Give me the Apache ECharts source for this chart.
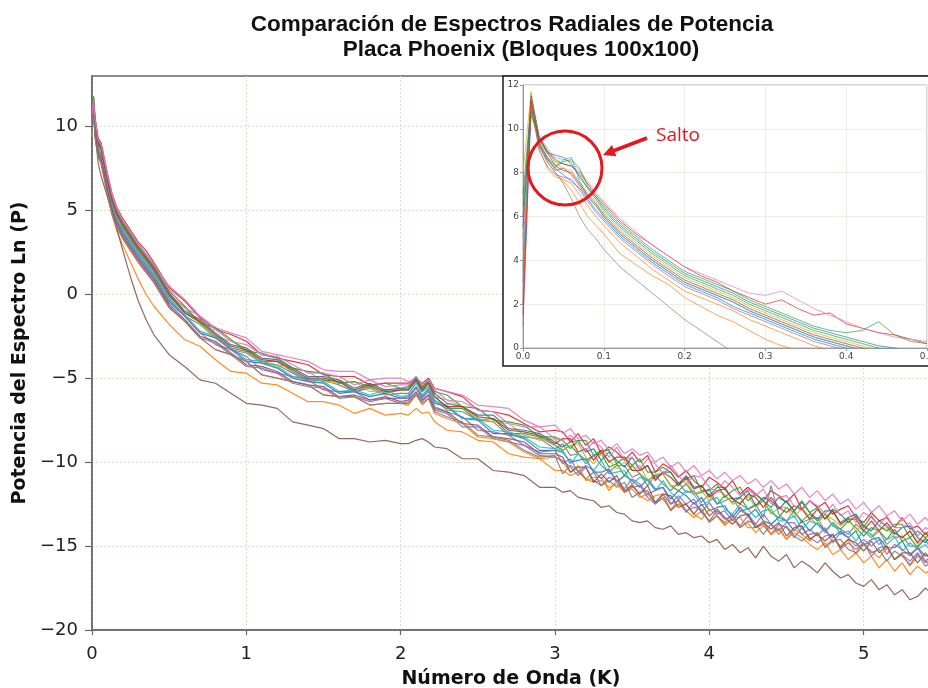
<!DOCTYPE html>
<html>
<head>
<meta charset="utf-8">
<script src="https://cdn.jsdelivr.net/npm/echarts@6/dist/echarts.min.js"></script>
<style>html,body{margin:0;padding:0;background:#fff}#chart{width:928px;height:688px}</style>
</head>
<body>
<div id="chart"></div>
<script>
// ---------- DATA ----------
const titleLine1 = 'Comparación de Espectros Radiales de Potencia';
const titleLine2 = 'Placa Phoenix (Bloques 100x100)';
const xName = 'Número de Onda (K)';
const yName = 'Potencia del Espectro Ln (P)';
const xTicks = [0, 1, 2, 3, 4, 5];
const yTicks = [-20, -15, -10, -5, 0, 5, 10];
const insetXTicks = [0, 0.1, 0.2, 0.3, 0.4, 0.5];
const insetYTicks = [0, 2, 4, 6, 8, 10, 12];
const annotationText = 'Salto';

const kMain = [0,0.01,0.02,0.04,0.06,0.08,0.1,0.13,0.16,0.2,0.25,0.3,0.35,0.4,0.5,0.6,0.7,0.8,0.9,1.0,
1.1,1.2,1.3,1.4,1.5,1.6,1.7,1.8,1.9,2.0,2.05,2.1,2.14,2.18,2.22,2.3,2.4,2.5,2.6,2.7,2.8,2.9,3.0,
3.05,3.1,3.15,3.2,3.25,3.3,3.35,3.4,3.45,3.5,3.55,3.6,3.65,3.7,3.75,3.8,3.85,3.9,3.95,4.0,4.05,4.1,4.15,4.2,4.25,4.3,4.35,4.4,4.45,4.5,4.55,4.6,4.65,4.7,4.75,4.8,4.85,4.9,4.95,5.0,5.05,5.1,5.15,5.2,5.25,5.3,5.35,5.4,5.45];

const b01 = [10.0,11.2,9.8,8.6,8.1,7.3,6.4,5.2,4.4,3.7,3.0,2.3,1.7,1.1,-0.4,-1.3,-2.3,-2.6,-3.3,-4.0,-4.1,-4.4,-5.0,-5.2,-5.3,-5.9,-5.8,-6.1,-5.9,-6.2,-6.1,-5.5,-6.1,-5.7,-6.5,-6.7,-7.4,-7.5,-8.3,-8.3,-8.6,-9.3,-9.3,
-9.4,-10.0,-9.9,-9.8,-10.6,-10.6,-10.4,-11.2,-10.8,-11.1,-11.5,-11.0,-11.6,-11.5,-12.2,-11.7,-12.0,-12.5,-12.1,-12.9,-12.7,-12.6,-13.3,-12.7,-13.2,-12.8,-13.5,-13.7,-13.3,-13.5,-14.1,-13.5,-14.1,-13.6,-14.1,-14.5,-14.1,-14.5,-14.1,-15.0,-14.6,-14.5,-15.1,-15.1,-14.7,-15.5,-15.1,-15.6,-15.4];
const b02 = [10.0,11.4,9.8,8.4,7.7,6.8,5.9,4.7,3.8,2.9,1.9,0.9,0.0,-0.7,-1.8,-2.7,-3.1,-3.9,-4.6,-4.7,-5.3,-5.4,-5.9,-6.4,-6.4,-6.6,-7.1,-6.8,-7.2,-7.1,-7.2,-6.8,-7.1,-7.0,-7.6,-8.1,-8.2,-8.7,-8.8,-9.5,-9.7,-9.8,-10.5,
-10.5,-10.8,-10.6,-11.0,-11.2,-11.1,-11.5,-11.3,-11.8,-11.6,-12.1,-11.9,-12.4,-12.2,-12.8,-12.5,-12.9,-13.3,-12.9,-13.5,-13.2,-13.7,-13.4,-13.9,-13.6,-14.2,-13.8,-14.3,-14.0,-14.6,-14.2,-14.5,-14.9,-15.2,-14.8,-15.5,-15.2,-15.8,-15.4,-16.0,-15.6,-16.3,-15.8,-16.5,-16.0,-16.7,-16.2,-16.6,-16.4];
const b03 = [10.6,11.6,10.1,8.9,8.6,7.6,6.7,5.5,4.7,4.0,3.3,2.6,2.0,1.4,-0.1,-1.1,-1.7,-2.5,-3.2,-3.4,-4.0,-4.0,-4.6,-5.1,-5.1,-5.2,-5.8,-5.5,-5.9,-5.7,-5.7,-5.1,-5.8,-5.3,-6.1,-6.8,-6.8,-7.5,-7.4,-8.3,-8.3,-8.5,-9.0,
-9.3,-9.0,-9.5,-9.9,-9.6,-9.5,-10.3,-10.1,-10.8,-10.2,-10.7,-11.1,-10.8,-10.7,-11.4,-11.7,-11.3,-11.9,-11.8,-11.6,-12.5,-12.0,-12.4,-12.1,-12.8,-12.6,-12.3,-13.0,-13.3,-12.7,-13.0,-13.5,-13.1,-13.5,-13.1,-13.8,-14.0,-13.5,-13.9,-14.4,-13.9,-14.1,-14.6,-14.0,-14.7,-14.5,-15.1,-14.5,-15.0];
const b04 = [10.8,11.7,10.5,9.3,9.0,8.1,7.2,6.0,5.2,4.5,3.8,3.1,2.6,1.9,0.4,-0.4,-1.4,-2.1,-2.4,-2.8,-3.6,-3.8,-4.0,-4.2,-4.8,-4.9,-4.9,-5.4,-5.3,-5.3,-5.3,-5.0,-5.3,-5.0,-5.6,-5.8,-6.1,-6.9,-7.0,-7.2,-7.7,-8.2,-8.1,
-8.2,-8.8,-8.3,-9.0,-8.6,-9.5,-9.1,-9.4,-9.9,-9.4,-10.0,-9.6,-10.6,-10.1,-10.4,-10.9,-10.5,-11.1,-11.5,-10.9,-11.2,-11.6,-11.1,-11.9,-11.5,-11.9,-12.3,-11.7,-12.0,-12.4,-11.9,-12.8,-12.3,-12.7,-12.4,-13.1,-12.8,-12.6,-13.3,-13.6,-13.0,-13.5,-13.3,-13.9,-13.3,-14.0,-13.8,-14.3,-13.9];
const b05 = [9.6,11.0,9.4,8.2,7.8,7.0,6.1,4.9,4.1,3.4,2.7,2.0,1.4,0.8,-0.7,-1.6,-2.6,-2.9,-3.6,-4.3,-4.4,-4.7,-5.3,-5.5,-5.6,-6.2,-6.1,-6.4,-6.2,-6.5,-6.4,-5.9,-6.4,-6.0,-6.9,-7.1,-7.9,-7.9,-8.6,-8.8,-9.0,-9.6,-9.7,
-9.9,-10.3,-10.8,-10.3,-11.1,-11.4,-10.9,-11.1,-11.8,-11.5,-11.4,-12.1,-12.5,-11.9,-12.5,-12.3,-13.0,-12.4,-13.0,-13.5,-12.9,-13.4,-13.2,-13.8,-13.2,-13.9,-13.7,-14.3,-13.7,-13.9,-14.5,-13.9,-14.5,-14.8,-14.4,-14.3,-15.2,-14.8,-15.2,-14.8,-15.6,-15.1,-15.0,-15.8,-15.5,-15.9,-15.4,-16.0,-15.7];
const b06 = [9.8,11.0,9.6,7.8,7.0,6.4,5.8,4.8,3.9,2.6,1.0,-0.4,-1.5,-2.4,-3.6,-4.3,-5.1,-5.3,-5.9,-6.5,-6.6,-6.8,-7.6,-7.8,-8.0,-8.6,-8.6,-8.8,-8.7,-8.9,-8.9,-8.7,-8.6,-8.8,-9.1,-9.2,-9.8,-9.8,-10.5,-10.6,-10.8,-11.5,-11.5,
-11.8,-11.7,-12.1,-12.2,-12.3,-12.7,-12.6,-13.0,-13.1,-13.5,-13.6,-13.5,-13.9,-14.0,-13.8,-14.3,-14.2,-14.5,-14.4,-14.8,-14.6,-15.2,-14.9,-15.4,-15.1,-15.7,-15.0,-15.6,-15.9,-15.5,-16.3,-15.9,-16.2,-16.6,-16.0,-16.5,-16.9,-16.7,-17.2,-17.4,-17.0,-17.6,-17.3,-17.9,-17.6,-18.2,-18.0,-17.5,-17.9];
const b07 = [10.4,11.5,10.2,9.0,8.7,7.9,7.0,5.9,5.1,4.3,3.6,3.0,2.3,1.7,0.5,-0.3,-1.3,-2.0,-2.3,-2.6,-3.4,-3.6,-3.8,-4.0,-4.5,-4.6,-4.6,-5.1,-5.0,-5.0,-5.2,-5.0,-5.3,-5.3,-5.6,-5.8,-6.0,-6.6,-6.7,-6.8,-7.5,-7.9,-7.8,
-8.3,-8.0,-8.6,-8.4,-8.9,-8.7,-9.3,-8.9,-9.5,-9.2,-9.6,-9.4,-10.0,-9.7,-10.3,-10.0,-10.6,-10.2,-10.8,-10.5,-11.0,-10.6,-11.1,-10.8,-11.3,-11.0,-11.5,-11.1,-11.6,-11.3,-11.9,-11.5,-12.1,-11.7,-12.3,-11.9,-12.5,-12.2,-12.8,-12.4,-13.0,-12.6,-13.2,-12.9,-13.5,-13.1,-13.7,-13.3,-13.8];
const b08 = [10.3,11.4,10.0,8.8,8.3,7.5,6.6,5.4,4.6,3.9,3.2,2.5,1.9,1.3,-0.2,-1.3,-1.8,-2.6,-3.3,-3.5,-4.1,-4.2,-4.7,-5.2,-5.1,-5.4,-5.8,-5.6,-6.0,-5.9,-5.9,-5.3,-5.8,-5.5,-6.3,-6.9,-7.0,-7.5,-7.6,-8.4,-8.5,-8.6,-9.2,
-8.9,-9.6,-9.5,-10.1,-9.6,-10.2,-10.6,-10.2,-10.2,-10.9,-10.7,-11.4,-10.8,-11.3,-11.7,-11.2,-11.8,-11.7,-12.4,-11.9,-12.5,-12.3,-12.1,-12.9,-12.8,-12.5,-13.3,-11.4,-13.1,-13.5,-12.9,-13.6,-13.4,-13.3,-14.1,-13.6,-14.0,-14.3,-13.7,-14.1,-14.5,-14.1,-14.9,-14.5,-14.4,-15.0,-15.0,-14.6,-15.4];
const b09 = [10.0,11.5,10.3,9.0,8.5,7.7,6.8,5.6,4.8,4.1,3.4,2.7,2.1,1.5,0.0,-0.8,-1.8,-2.5,-2.8,-3.2,-4.0,-4.2,-4.4,-4.6,-5.2,-5.3,-5.2,-5.8,-5.7,-5.7,-5.7,-5.1,-5.7,-5.3,-6.1,-6.3,-6.7,-7.4,-7.6,-7.7,-8.4,-8.7,-8.6,
-9.3,-9.0,-8.9,-9.7,-10.1,-9.5,-9.9,-10.4,-10.0,-10.5,-10.2,-11.1,-10.7,-10.7,-11.4,-11.4,-11.0,-11.9,-11.7,-12.3,-11.7,-11.9,-12.5,-12.4,-12.0,-12.7,-12.3,-13.1,-12.7,-12.7,-13.3,-12.7,-13.3,-13.7,-13.1,-13.4,-13.8,-13.3,-14.1,-13.7,-14.4,-14.0,-13.9,-14.5,-14.5,-14.1,-14.9,-14.5,-15.0];
const b10 = [9.4,11.1,9.9,8.7,8.3,7.4,6.5,5.3,4.5,3.8,3.1,2.4,1.8,1.2,-0.3,-1.2,-2.2,-2.5,-3.2,-3.9,-4.0,-4.3,-4.9,-5.0,-5.2,-5.8,-5.7,-6.0,-5.7,-6.1,-6.0,-5.2,-6.0,-5.6,-6.4,-6.6,-7.4,-7.4,-8.1,-8.2,-8.5,-9.1,-9.2,
-9.3,-10.1,-9.5,-9.9,-10.5,-9.9,-10.7,-10.6,-10.5,-11.3,-10.9,-11.1,-11.7,-11.1,-11.8,-12.2,-11.7,-11.9,-12.6,-12.3,-12.1,-12.8,-13.1,-12.5,-12.8,-13.3,-12.9,-12.8,-13.5,-13.5,-13.2,-14.0,-13.5,-13.7,-14.2,-13.6,-14.3,-14.1,-14.7,-14.1,-14.3,-14.9,-14.6,-14.4,-15.3,-14.8,-15.2,-14.9,-15.5];
const b11 = [10.9,11.6,10.3,9.1,8.7,7.8,6.9,5.7,4.9,4.2,3.5,2.8,2.2,1.6,0.1,-1.0,-1.5,-2.3,-3.0,-3.2,-3.8,-3.9,-4.4,-4.9,-4.9,-5.1,-5.6,-5.3,-5.7,-5.6,-5.6,-5.0,-5.6,-5.2,-5.9,-6.5,-6.7,-7.2,-7.2,-8.0,-8.1,-8.3,-8.8,
-9.1,-8.8,-8.7,-9.4,-9.2,-9.9,-9.4,-9.9,-10.3,-9.7,-10.5,-10.2,-11.0,-10.6,-10.6,-11.3,-10.8,-11.5,-11.4,-12.0,-11.5,-11.5,-12.2,-12.1,-11.7,-12.6,-12.1,-12.3,-12.8,-12.3,-12.9,-12.4,-13.0,-13.4,-12.9,-12.9,-13.6,-13.3,-13.1,-13.8,-14.1,-13.5,-13.8,-14.3,-13.9,-13.8,-14.5,-14.8,-14.2];
const b12 = [9.4,11.0,9.4,8.2,7.8,6.9,6.0,4.8,4.0,3.3,2.6,1.9,1.3,0.7,-0.8,-1.6,-2.6,-3.3,-3.6,-4.0,-4.8,-5.0,-5.2,-5.4,-6.0,-6.1,-6.1,-6.6,-6.5,-6.5,-6.6,-6.0,-6.6,-6.2,-7.1,-7.4,-7.7,-8.5,-8.6,-8.8,-9.4,-9.8,-9.7,
-10.0,-10.6,-10.2,-11.1,-10.9,-10.9,-11.7,-11.1,-11.8,-11.3,-12.0,-12.3,-12.0,-11.9,-12.9,-12.5,-12.5,-13.1,-13.4,-12.8,-13.2,-13.8,-13.3,-13.3,-13.9,-13.9,-13.5,-14.3,-13.9,-14.6,-14.0,-14.3,-14.7,-14.2,-15.0,-14.6,-15.0,-14.6,-15.5,-14.9,-15.3,-15.7,-15.1,-15.8,-15.5,-16.2,-15.6,-15.9,-16.3];
const b13 = [11.0,11.8,10.4,9.2,8.8,7.9,7.0,5.8,5.0,4.3,3.6,2.9,2.3,1.7,0.2,-0.7,-1.7,-2.0,-2.7,-3.4,-3.5,-3.8,-4.4,-4.6,-4.7,-5.3,-5.2,-5.5,-5.3,-5.6,-5.5,-4.9,-5.5,-5.1,-5.8,-6.0,-6.7,-6.8,-7.5,-7.6,-7.8,-8.5,-8.5,
-8.7,-9.2,-8.7,-8.7,-9.6,-9.3,-9.3,-10.1,-9.7,-10.2,-9.8,-10.6,-10.6,-10.3,-10.6,-11.3,-11.0,-10.8,-11.7,-11.7,-11.3,-12.1,-11.7,-11.5,-12.3,-11.9,-12.3,-12.7,-12.1,-12.4,-12.9,-12.3,-13.0,-12.7,-13.4,-12.8,-13.1,-13.6,-13.2,-13.9,-13.2,-13.8,-14.1,-13.7,-13.7,-14.5,-14.1,-14.5,-14.1];
const b14 = [10.5,11.5,10.2,9.0,8.6,7.7,6.8,5.6,4.8,4.1,3.4,2.7,2.1,1.5,0.0,-1.1,-1.6,-2.4,-3.1,-3.3,-3.9,-4.0,-4.5,-5.0,-5.0,-5.2,-5.7,-5.4,-5.8,-5.7,-5.7,-5.1,-5.7,-5.3,-6.1,-6.7,-6.7,-7.3,-7.4,-8.1,-8.2,-8.4,-8.9,
-8.6,-8.6,-9.4,-9.2,-9.9,-9.3,-10.0,-9.7,-9.7,-10.5,-10.5,-10.2,-11.1,-10.6,-10.9,-11.4,-10.9,-11.6,-11.4,-12.1,-11.7,-11.6,-12.2,-12.5,-11.9,-12.1,-12.7,-12.1,-12.7,-13.0,-12.6,-12.8,-13.4,-12.8,-13.4,-12.9,-13.7,-13.4,-13.4,-14.1,-13.5,-14.1,-13.6,-14.2,-14.5,-14.1,-14.8,-14.2,-14.7];
const b15 = [9.9,11.2,9.7,8.5,8.1,7.2,6.3,5.1,4.3,3.6,2.9,2.2,1.6,1.0,-0.5,-1.3,-2.3,-3.0,-3.3,-3.7,-4.5,-4.7,-4.9,-5.1,-5.7,-5.8,-5.8,-6.3,-6.2,-6.2,-6.2,-5.6,-6.2,-5.8,-6.7,-7.0,-7.3,-8.1,-8.2,-8.4,-9.0,-9.4,-9.3,
-10.1,-9.8,-10.6,-10.2,-10.5,-11.0,-10.5,-11.1,-11.6,-11.0,-11.3,-11.9,-11.7,-11.5,-12.5,-12.0,-12.5,-12.2,-13.0,-12.4,-13.1,-12.9,-13.5,-12.9,-13.1,-13.7,-13.1,-13.7,-14.1,-13.6,-13.6,-14.3,-14.0,-14.4,-13.9,-14.8,-14.2,-14.5,-15.0,-14.6,-15.0,-14.6,-15.5,-14.9,-15.2,-15.6,-15.1,-15.9,-15.5];
const b16 = [9.7,11.1,9.6,8.4,8.0,7.1,6.2,5.0,4.2,3.5,2.8,2.1,1.5,0.9,-0.6,-1.5,-2.5,-2.8,-3.5,-4.2,-4.3,-4.6,-5.2,-5.4,-5.5,-6.1,-6.0,-6.3,-6.1,-6.4,-6.3,-5.8,-6.3,-6.0,-6.8,-7.0,-7.7,-7.8,-8.5,-8.6,-8.8,-9.5,-9.5,
-9.7,-10.6,-10.3,-10.3,-11.2,-10.7,-11.2,-10.8,-11.7,-11.4,-11.9,-11.4,-12.4,-11.9,-12.0,-12.7,-12.5,-13.1,-12.5,-13.2,-12.8,-13.3,-13.7,-13.2,-13.1,-13.9,-13.6,-14.0,-13.6,-14.4,-13.9,-13.8,-14.6,-14.3,-14.7,-14.3,-15.1,-14.6,-14.8,-15.3,-14.7,-15.4,-15.0,-15.8,-15.4,-15.4,-16.0,-15.4,-16.0];
const b17 = [10.7,11.6,10.4,9.2,8.9,8.0,7.1,5.9,5.1,4.4,3.7,3.0,2.4,1.8,0.3,-0.8,-1.3,-2.1,-2.8,-3.0,-3.6,-3.7,-4.2,-4.7,-4.7,-4.9,-5.4,-5.1,-5.5,-5.4,-5.4,-4.9,-5.4,-5.1,-5.7,-6.3,-6.4,-6.9,-7.0,-7.7,-7.9,-7.9,-8.6,
-8.7,-8.4,-8.8,-9.3,-8.8,-9.1,-9.7,-9.1,-9.9,-9.7,-10.4,-9.8,-10.1,-10.7,-10.2,-10.8,-11.3,-10.8,-10.9,-11.5,-11.8,-11.1,-11.5,-12.0,-11.6,-12.0,-11.6,-12.5,-12.1,-12.0,-12.6,-12.9,-12.3,-12.6,-13.1,-12.5,-13.2,-12.9,-13.6,-13.0,-13.3,-13.8,-13.2,-13.9,-13.9,-13.6,-14.4,-13.9,-14.1];
const b18 = [9.5,10.9,9.3,8.2,7.8,6.9,6.0,4.8,4.0,3.3,2.6,1.9,1.3,0.7,-0.8,-1.6,-2.6,-3.3,-3.6,-4.0,-4.8,-5.0,-5.2,-5.4,-6.0,-6.1,-6.1,-6.6,-6.5,-6.5,-6.5,-6.0,-6.5,-6.2,-7.0,-7.3,-7.6,-8.4,-8.5,-8.7,-9.3,-9.7,-9.6,
-10.7,-10.2,-10.5,-11.0,-10.6,-11.4,-11.1,-11.5,-11.2,-12.1,-11.8,-11.7,-12.5,-12.1,-12.9,-12.2,-12.9,-12.7,-12.8,-13.6,-13.2,-13.6,-13.1,-13.9,-13.5,-13.7,-14.3,-13.7,-14.3,-13.8,-14.4,-14.7,-14.3,-14.2,-15.1,-14.7,-14.6,-15.2,-15.4,-14.8,-15.4,-15.2,-15.9,-15.3,-15.6,-16.1,-15.5,-16.2,-15.9];

const kInset = [0,0.01,0.02,0.03,0.04,0.05,0.06,0.07,0.08,0.09,0.1,0.12,0.14,0.16,0.18,0.2,0.22,0.24,0.26,0.28,0.3,0.32,0.34,0.36,0.38,0.4,0.42,0.44,0.46,0.48,0.5];
const z01 = [3.0,11.0,9.2,8.6,8.2,7.9,7.6,7.3,6.8,6.3,5.9,5.1,4.5,3.9,3.4,2.9,2.6,2.3,1.9,1.6,1.3,1.0,0.7,0.4,0.2,0.0,-0.2,-0.4,-0.6,-0.8,-1.0];
const z02 = [5.0,11.6,9.3,8.5,8.0,7.6,7.2,6.6,6.0,5.6,5.2,4.3,3.8,3.3,2.9,2.3,1.9,1.5,1.2,0.8,0.4,0.1,-0.1,-0.3,-0.5,-0.7,-0.9,-1.1,-1.3,-1.5,-1.7];
const z03 = [6.0,10.6,9.6,9.0,8.5,8.4,8.3,7.9,7.3,6.8,6.3,5.5,4.9,4.3,3.8,3.3,3.0,2.7,2.4,2.0,1.7,1.4,1.1,0.8,0.6,0.4,0.2,0.0,-0.2,-0.4,-0.6];
const z04 = [2.0,11.5,9.6,9.0,8.6,8.4,8.3,8.0,7.5,7.0,6.6,5.8,5.2,4.7,4.2,3.7,3.3,3.0,2.6,2.3,2.0,2.2,1.8,1.5,1.6,1.1,0.9,0.7,0.6,0.4,0.2];
const z05 = [1.0,11.1,9.0,8.3,7.9,7.8,7.7,7.2,6.7,6.2,5.8,5.0,4.4,3.8,3.3,2.8,2.5,2.2,1.8,1.5,1.2,0.9,0.6,0.3,0.1,-0.1,-0.3,-0.5,-0.7,-0.9,-1.1];
const z06 = [7.0,11.2,9.3,8.7,8.1,8.2,7.9,7.4,6.9,6.5,6.0,5.2,4.6,4.0,3.5,3.0,2.7,2.4,2.1,1.7,1.4,1.1,0.8,0.5,0.3,0.1,-0.1,-0.3,-0.5,-0.7,-0.9];
const z07 = [4.5,11.4,9.7,9.1,8.7,8.6,8.5,8.1,7.6,7.1,6.7,5.9,5.3,4.7,4.2,3.7,3.4,3.1,2.8,2.5,2.4,2.6,2.2,1.8,1.5,1.2,0.9,0.7,0.5,0.4,0.3];
const z08 = [3.5,11.0,9.2,8.5,8.0,7.5,6.8,6.0,5.4,5.0,4.5,3.7,3.1,2.5,1.9,1.3,0.8,0.3,-0.2,-0.7,-1.2,-1.7,-2.0,-2.3,-2.6,-2.9,-3.2,-3.5,-3.8,-4.1,-4.4];
const z09 = [8.0,11.7,9.5,8.9,8.4,8.2,8.1,7.6,7.1,6.7,6.2,5.4,4.8,4.2,3.7,3.2,2.9,2.6,2.3,1.9,1.6,1.3,1.0,0.7,0.5,0.3,0.1,-0.1,-0.3,-0.5,-0.7];
const z10 = [3.8,11.2,9.3,8.6,8.2,8.6,8.7,7.6,6.9,6.5,6.0,5.2,4.6,4.0,3.5,3.0,2.7,2.4,2.1,1.7,1.4,1.1,0.8,0.5,0.3,0.1,-0.1,-0.3,-0.5,-0.7,-0.9];
const z11 = [5.5,11.5,9.6,8.9,8.8,8.7,8.4,7.8,7.3,6.9,6.4,5.6,5.0,4.4,3.9,3.4,3.1,2.8,2.5,2.1,1.8,1.5,1.2,0.9,0.7,0.5,0.3,0.1,0.0,-0.2,-0.4];
const z12 = [2.5,11.4,9.1,8.2,7.8,7.7,7.5,7.0,6.5,6.0,5.6,4.8,4.2,3.6,3.1,2.6,2.3,2.0,1.7,1.3,1.0,0.7,0.4,0.1,-0.1,-0.3,-0.5,-0.7,-0.9,-1.1,-1.3];
const z13 = [6.5,10.8,9.5,8.9,8.3,8.5,8.6,8.2,7.4,6.9,6.5,5.7,5.1,4.5,4.0,3.5,3.2,2.9,2.6,2.2,1.9,1.6,1.3,1.0,0.8,0.7,0.8,1.2,0.6,0.3,0.2];
const z14 = [1.5,11.3,9.4,8.7,8.3,8.1,8.0,7.5,7.0,6.6,6.1,5.3,4.7,4.1,3.6,3.1,2.8,2.5,2.2,1.8,1.5,1.2,0.9,0.6,0.4,0.2,0.0,-0.2,-0.4,-0.6,-0.8];

// ---------- STYLE ----------
const palette = ['#1f77b4','#ff7f0e','#2ca02c','#d62728','#9467bd','#8c564b','#e377c2','#7f7f7f','#bcbd22','#17becf'];
const mainBlocks = [b01,b02,b03,b04,b05,b06,b07,b08,b09,b10,b11,b12,b13,b14,b15,b16,b17,b18];
const insetBlocks = [z01,z02,z03,z04,z05,z06,z07,z08,z09,z10,z11,z12,z13,z14];
const RED = '#e3191f';

const fmtMinus = v => String(v).replace('-', '\u2212');

const series = [];
mainBlocks.forEach((arr, i) => {
  series.push({
    type: 'line', name: 'Bloque ' + (i + 1), xAxisIndex: 0, yAxisIndex: 0,
    data: kMain.map((k, j) => [k, arr[j]]),
    symbol: 'none', showSymbol: false, silent: true, z: 2,
    lineStyle: { width: 1.2, color: palette[i % 10], opacity: 0.9 },
    itemStyle: { color: palette[i % 10] }
  });
});
insetBlocks.forEach((arr, i) => {
  series.push({
    type: 'line', name: 'Zoom ' + (i + 1), xAxisIndex: 1, yAxisIndex: 1,
    data: kInset.map((k, j) => [k, arr[j]]),
    symbol: 'none', showSymbol: false, silent: true, z: 5, clip: true,
    lineStyle: { width: 1, color: palette[i % 10], opacity: 0.7 },
    itemStyle: { color: palette[i % 10] }
  });
});

const axisCol = '#666';
const gridCol = '#cfe3cf';
const isTick = (list, v) => list.some(t => Math.abs(t - v) < 1e-9);

const option = {
  animation: false,
  backgroundColor: '#ffffff',
  title: [
    { text: titleLine1, left: 512, top: 13, textAlign: 'center', padding: 0,
      textStyle: { fontFamily: 'Liberation Sans', fontWeight: 'bold', fontSize: 22.5, color: '#111' } },
    { text: titleLine2, left: 521, top: 38, textAlign: 'center', padding: 0,
      textStyle: { fontFamily: 'Liberation Sans', fontWeight: 'bold', fontSize: 22.5, color: '#111' } }
  ],
  grid: [
    { left: 92, top: 76, width: 838, height: 554, show: true, borderColor: axisCol, borderWidth: 1.5,
      backgroundColor: 'transparent', containLabel: false, outerBoundsMode: 'none' },
    { left: 523, top: 85, width: 404, height: 263, show: true, borderColor: '#aaa', borderWidth: 1,
      backgroundColor: 'transparent', z: 3, containLabel: false, outerBoundsMode: 'none' }
  ],
  xAxis: [
    { type: 'value', gridIndex: 0, min: 0, max: 5.43, interval: 1,
      name: xName, nameLocation: 'middle', nameGap: 40,
      nameTextStyle: { fontFamily: 'DejaVu Sans', fontWeight: 'bold', fontSize: 19, color: '#111' },
      axisLine: { show: true, onZero: false, lineStyle: { color: axisCol, width: 1.5 } },
      axisTick: { show: true, length: 5, customValues: xTicks, lineStyle: { color: axisCol, width: 1.2 } },
      axisLabel: { fontFamily: 'DejaVu Sans', fontSize: 18, color: '#222', margin: 15, customValues: xTicks,
        formatter: v => (isTick(xTicks, v) ? fmtMinus(v) : '') },
      splitLine: { show: true, lineStyle: { color: gridCol, width: 1, type: [2, 2] } } },
    { type: 'value', gridIndex: 1, min: 0, max: 0.5, interval: 0.1, z: 3,
      axisLine: { show: true, onZero: false, lineStyle: { color: '#999', width: 1 } },
      axisTick: { show: true, length: 3, lineStyle: { color: '#999' } },
      axisLabel: { fontFamily: 'DejaVu Sans', fontSize: 9, color: '#444', margin: 4,
        formatter: v => (isTick(insetXTicks, v) ? v.toFixed(1) : '') },
      splitLine: { show: true, lineStyle: { color: '#e9eee9', width: 1 } } }
  ],
  yAxis: [
    { type: 'value', gridIndex: 0, min: -20, max: 13, interval: 5,
      name: yName, nameLocation: 'middle', nameGap: 55, nameRotate: 90,
      nameTextStyle: { fontFamily: 'DejaVu Sans', fontWeight: 'bold', fontSize: 19, color: '#111' },
      axisLine: { show: true, onZero: false, lineStyle: { color: axisCol, width: 1.5 } },
      axisTick: { show: true, length: 7, customValues: yTicks, lineStyle: { color: axisCol, width: 1.2 } },
      axisLabel: { fontFamily: 'DejaVu Sans', fontSize: 18, color: '#222', margin: 14, customValues: yTicks,
        formatter: v => (isTick(yTicks, v) ? fmtMinus(v) : '') },
      splitLine: { show: true, lineStyle: { color: gridCol, width: 1, type: [2, 2] } } },
    { type: 'value', gridIndex: 1, min: 0, max: 12, interval: 2, z: 3,
      axisLine: { show: true, onZero: false, lineStyle: { color: '#999', width: 1 } },
      axisTick: { show: true, length: 3, lineStyle: { color: '#999' } },
      axisLabel: { fontFamily: 'DejaVu Sans', fontSize: 9, color: '#444', margin: 4,
        formatter: v => (isTick(insetYTicks, v) ? String(v) : '') },
      splitLine: { show: true, lineStyle: { color: '#e9eee9', width: 1 } } }
  ],
  graphic: [
    { type: 'rect', z: 1, silent: true, shape: { x: 503, y: 76, width: 430, height: 290 },
      style: { fill: '#ffffff', stroke: '#1a1a1a', lineWidth: 1.5 } },
    { type: 'circle', z: 20, silent: true, shape: { cx: 565, cy: 168, r: 37 },
      style: { fill: 'none', stroke: RED, lineWidth: 3 } },
    { type: 'line', z: 20, silent: true, shape: { x1: 647, y1: 138, x2: 613, y2: 151 },
      style: { stroke: RED, lineWidth: 3.5 } },
    { type: 'polygon', z: 20, silent: true, shape: { points: [[603, 155], [616.4, 156.3], [612, 145.1]] },
      style: { fill: RED } },
    { type: 'text', z: 20, silent: true, x: 656, y: 136,
      style: { text: annotationText, font: '19px "Open Sans"', fill: RED, align: 'left', textAlign: 'left', verticalAlign: 'middle', textVerticalAlign: 'middle' } }
  ],
  series: series
};

// length check (draws a warning only if data lengths are inconsistent)
const bad = [];
mainBlocks.forEach((a, i) => { if (a.length !== kMain.length) bad.push('b' + (i + 1) + ':' + a.length); });
insetBlocks.forEach((a, i) => { if (a.length !== kInset.length) bad.push('z' + (i + 1) + ':' + a.length); });
if (bad.length) option.graphic.push({ type: 'text', left: 100, top: 600, z: 50, style: { text: 'LEN ' + bad.join(' '), fill: '#f00', font: '12px sans-serif' } });

const chart = echarts.init(document.getElementById('chart'), null, { renderer: 'canvas' });
chart.setOption(option);
</script>
</body>
</html>
